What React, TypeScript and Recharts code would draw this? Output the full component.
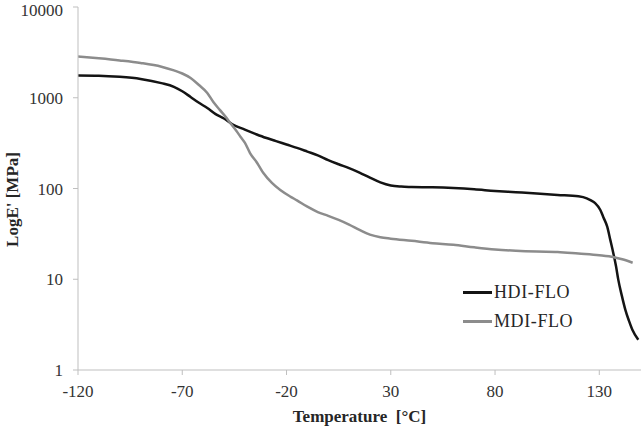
import { LineChart, Line, XAxis, YAxis, Legend } from 'recharts';

// storage modulus vs temperature
const hdiTemp = [-120, -110, -100, -90, -80, -74, -70, -66, -62, -58, -54, -50, -46, -40, -35, -30, -25, -20, -15, -10, -5, 0, 5, 10, 15, 20, 25, 30, 35, 40, 50, 60, 70, 80, 90, 100, 110, 120, 124, 126, 128, 130.5, 132, 133.8, 135.3, 136.7, 138, 139.1, 140.8, 142.5, 144.2, 145.8, 148.7];
const hdiModulus = [1760, 1750, 1700, 1610, 1450, 1320, 1180, 1020, 880, 770, 660, 590, 510, 445, 400, 362, 333, 305, 280, 255, 232, 205, 185, 168, 150, 132, 117, 108, 105, 104, 103, 101, 98, 94, 91, 88, 85, 82, 78, 74, 69, 58, 48, 38, 27, 19.5, 14, 9.9, 6.6, 4.6, 3.5, 2.8, 2.16];

const mdiTemp = [-120, -110, -100, -90, -80, -74, -70, -66, -62, -58, -55, -52, -49, -47, -44, -42, -40, -37.5, -34, -31, -27, -23, -18, -15, -10, -5, 0, 5, 10, 15, 20, 25, 30, 40, 50, 60, 70, 80, 90, 100, 110, 120, 130, 137, 141, 146];
const mdiModulus = [2850, 2720, 2580, 2420, 2200, 2000, 1850, 1650, 1380, 1130, 890, 735, 610, 527, 430, 370, 320, 246, 190, 147, 115, 96, 81, 74, 63, 55, 50, 45, 40, 35, 31, 29, 28, 26.5, 25, 24, 22.5, 21.3, 20.6, 20.2, 20, 19.2, 18.4, 17.5, 16.6, 15.2];

const xTicks = [-120, -70, -20, 30, 80, 130];
const yTicks = [1, 10, 100, 1000, 10000];

const seriesNames = ['HDI-FLO', 'MDI-FLO'];
const seriesColors = ['#141414', '#8c8c8c'];

const hdiData = hdiTemp.map((t, i) => ({ t, v: hdiModulus[i] }));
const mdiData = mdiTemp.map((t, i) => ({ t, v: mdiModulus[i] }));

const FONT = '"Liberation Serif", "Times New Roman", serif';
const AXIS = '#bfbfbf';
const titleStyle = { fontFamily: FONT, fontSize: 17, fontWeight: 'bold' as const, fill: '#262626' };

function LegendBox() {
  return (
    <div style={{ fontFamily: FONT, fontSize: 18, color: '#262626' }}>
      {seriesNames.map((name, i) => (
        <div key={name} style={{ display: 'flex', alignItems: 'center', height: 29 }}>
          <div style={{ width: 29, height: i === 0 ? 3 : 2.5, background: seriesColors[i], marginRight: 2 }} />
          <span style={{ letterSpacing: 0.6 }}>{name}</span>
        </div>
      ))}
    </div>
  );
}

function YTitle(props: any) {
  const vb = props.viewBox;
  const x = vb.x + 12;
  const y = vb.y + vb.height / 2 + 11;
  return (
    <text x={x} y={y} transform={`rotate(-90 ${x} ${y})`} textAnchor="middle" dominantBaseline="central" style={titleStyle}>
      LogE' [MPa]
    </text>
  );
}

function XTitle(props: any) {
  const vb = props.viewBox;
  return (
    <text x={vb.x + vb.width / 2} y={vb.y + 46} textAnchor="middle" dominantBaseline="central" style={{ ...titleStyle, whiteSpace: 'pre' }}>
      {'Temperature  [°C]'}
    </text>
  );
}

export default function App() {
  return (
    <div style={{ width: 644, height: 429, background: '#fff', overflow: 'hidden' }}>
      <style>{'body { margin: 0; overflow: hidden; }'}</style>
      <LineChart width={644} height={429} margin={{ top: 7, right: 3, bottom: 0, left: 0 }}>
        <XAxis
          type="number"
          dataKey="t"
          domain={[-120, 150]}
          ticks={xTicks}
          allowDataOverflow
          height={59}
          stroke={AXIS}
          tickSize={5}
          tickMargin={10}
          tick={{ fill: '#333', fontSize: 17, fontFamily: FONT }}
          label={<XTitle />}
        />
        <YAxis
          type="number"
          scale="log"
          domain={[1, 10000]}
          ticks={yTicks}
          allowDataOverflow
          width={78}
          stroke={AXIS}
          tickSize={5}
          tickMargin={10}
          tick={{ fill: '#333', fontSize: 17, fontFamily: FONT }}
          label={<YTitle />}
        />
        <Legend
          layout="horizontal"
          verticalAlign="middle"
          align="center"
          wrapperStyle={{ left: 463, top: 278, width: 130 }}
          content={<LegendBox />}
        />
        <Line data={hdiData} dataKey="v" name={seriesNames[0]} type="monotone" stroke={seriesColors[0]} strokeWidth={2.5} dot={false} isAnimationActive={false} />
        <Line data={mdiData} dataKey="v" name={seriesNames[1]} type="monotone" stroke={seriesColors[1]} strokeWidth={2.5} dot={false} isAnimationActive={false} />
      </LineChart>
    </div>
  );
}
